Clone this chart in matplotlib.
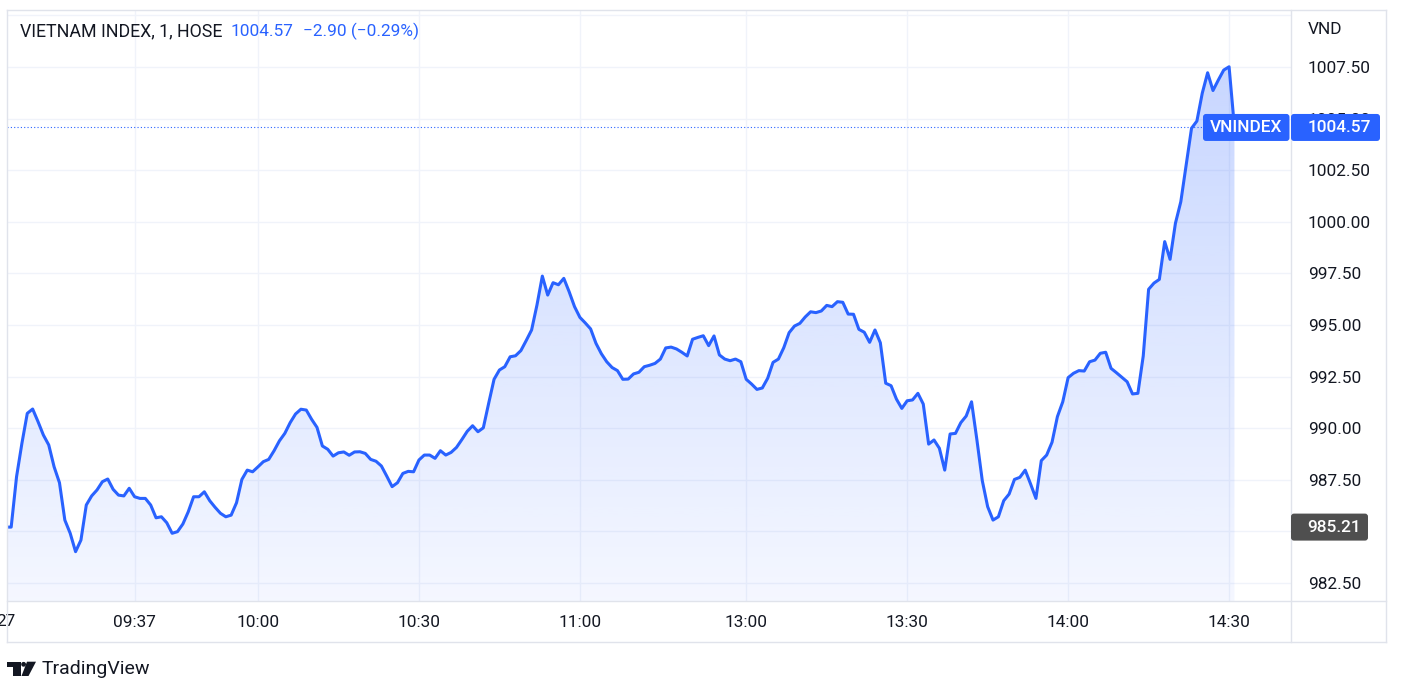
import numpy as np
import matplotlib.pyplot as plt
from matplotlib.patches import FancyBboxPatch, Polygon, Circle
from matplotlib.lines import Line2D
from matplotlib.transforms import IdentityTransform, blended_transform_factory

plt.rcParams['font.family'] = ['Roboto', 'DejaVu Sans']

W, H = 1402, 696
BLUE = '#2962ff'
TEXT = '#131722'
GRID = '#f0f3fa'
BORDER = '#e0e3eb'
FS = 12.4

title = 'VIETNAM INDEX, 1, HOSE'
symbol = 'VNINDEX'
currency = 'VND'
last_price = 1004.57
change = '\u22122.90 (\u22120.29%)'
open_price = 985.21
day_label = '27'

# 1-minute closes, morning session 09:13 - 11:30
morning = [
    985.21, 985.21, 987.65, 989.27, 990.72, 990.93, 990.32, 989.67, 989.19, 988.13,
    987.36, 985.55, 984.91, 984.02, 984.58, 986.28, 986.72, 987.01, 987.41, 987.54,
    987.04, 986.76, 986.72, 987.09, 986.68, 986.60, 986.60, 986.28, 985.66, 985.71,
    985.42, 984.91, 984.99, 985.36, 985.95, 986.68, 986.68, 986.92, 986.49, 986.17,
    985.88, 985.71, 985.79, 986.39, 987.52, 987.97, 987.89, 988.13, 988.38, 988.49,
    988.91, 989.39, 989.75, 990.27, 990.69, 990.92, 990.88, 990.43, 990.04, 989.14,
    988.98, 988.65, 988.81, 988.85, 988.69, 988.85, 988.86, 988.78, 988.49, 988.40,
    988.17, 987.68, 987.17, 987.36, 987.81, 987.91, 987.89, 988.46, 988.70, 988.70,
    988.54, 988.91, 988.70, 988.83, 989.07, 989.45, 989.85, 990.12, 989.83, 990.02,
    991.21, 992.37, 992.82, 992.98, 993.46, 993.51, 993.76, 994.25, 994.76, 995.97,
    997.37, 996.45, 997.05, 996.95, 997.26, 996.61, 995.89, 995.37, 995.10, 994.81,
    994.11, 993.61, 993.22, 992.94, 992.79, 992.37, 992.38, 992.63, 992.71, 992.98,
    993.05, 993.14, 993.35, 993.89, 993.93, 993.84, 993.68, 993.50, 994.31, 994.40,
    994.48, 994.00, 994.47, 993.55, 993.35, 993.27, 993.35, 993.22,
]
# afternoon session 13:00 - 14:30
afternoon = [
    992.37, 992.14, 991.88, 991.95, 992.42, 993.19, 993.35, 993.90, 994.63, 994.95,
    995.08, 995.39, 995.64, 995.60, 995.68, 995.95, 995.89, 996.13, 996.10, 995.53,
    995.52, 994.79, 994.65, 994.16, 994.76, 994.14, 992.18, 992.06, 991.41, 990.96,
    991.33, 991.37, 991.69, 991.17, 989.23, 989.43, 989.03, 987.97, 989.72, 989.75,
    990.27, 990.59, 991.28, 989.43, 987.46, 986.20, 985.55, 985.71, 986.49, 986.81,
    987.52, 987.62, 987.97, 987.30, 986.60, 988.43, 988.70, 989.32, 990.56, 991.28,
    992.45, 992.66, 992.79, 992.77, 993.22, 993.30, 993.63, 993.68, 992.90, 992.69,
    992.47, 992.25, 991.66, 991.69, 993.50, 996.73, 997.03, 997.21, 999.04, 998.18,
    999.93, 1000.97, 1002.75, 1004.53, 1004.88, 1006.23, 1007.22, 1006.36, 1006.87, 1007.35,
    1007.51,
]
# closing auction
closing = [1004.57]


def minute_range(a, b):
    h0, m0 = map(int, a.split(':'))
    h1, m1 = map(int, b.split(':'))
    return ['%02d:%02d' % (t // 60, t % 60) for t in range(h0 * 60 + m0, h1 * 60 + m1 + 1)]


times = minute_range('09:13', '11:30') + minute_range('13:00', '14:30') + ['14:45']
values = morning + afternoon + closing
bars = np.arange(len(values))

price_ticks = [982.5, 985.0, 987.5, 990.0, 992.5, 995.0, 997.5, 1000.0, 1002.5, 1005.0, 1007.5]
time_ticks = ['09:37', '10:00', '10:30', '11:00', '13:00', '13:30', '14:00', '14:30']

XMIN, XMAX = 0.22, 239.54
YMIN, YMAX = 981.63, 1010.26


def fx(x):
    return x / W


def fy(y):
    return 1 - y / H


fig = plt.figure(figsize=(W / 100, H / 100), dpi=100)
ax = fig.add_axes([fx(7), fy(601), (1291 - 7) / W, (601 - 10) / H])

# gradient area under the line
fill = ax.fill_between(bars, values, YMIN, color='none', lw=0)
grad = np.zeros((256, 1, 4))
grad[..., 0] = 41 / 255
grad[..., 1] = 98 / 255
grad[..., 2] = 1.0
grad[:, 0, 3] = np.linspace(0.05, 0.28, 256)
im = ax.imshow(grad, extent=[XMIN, XMAX, YMIN, YMAX], origin='lower',
               aspect='auto', zorder=1, interpolation='bilinear')
im.set_clip_path(fill.get_paths()[0], transform=ax.transData)

ax.plot(bars, values, color=BLUE, lw=2.2, zorder=3, solid_joinstyle='round')
ax.axhline(last_price, xmin=0, xmax=(1203 - 7) / (1291 - 7), color=BLUE,
           lw=0.8, ls=(0, (1, 2)), zorder=2)
ax.axhline(1010.0, color=GRID, lw=1, zorder=0.5)

ax.set_xlim(XMIN, XMAX)
ax.set_ylim(YMIN, YMAX)
ax.yaxis.tick_right()
ax.set_yticks(price_ticks, ['%.2f' % p for p in price_ticks])
ax.set_xticks([times.index(t) for t in time_ticks], time_ticks)
ax.tick_params(length=0, labelsize=FS, labelcolor=TEXT)
ax.tick_params(axis='y', pad=12.2)
ax.tick_params(axis='x', pad=10)
ax.set_axisbelow(True)
ax.grid(color=GRID, lw=1)
for s in ax.spines.values():
    s.set_visible(False)

# day label at the first bar, cut by the image edge
ax.text(0, fy(622), day_label, transform=blended_transform_factory(ax.transData, fig.transFigure),
        ha='center', va='center', fontsize=FS, color=TEXT, clip_on=False)


def line(x0, y0, x1, y1):
    fig.add_artist(Line2D([fx(x0), fx(x1)], [fy(y0), fy(y1)], color=BORDER, lw=1))


line(7, 10, 1386, 10)
line(7, 642, 1386, 642)
line(7, 10, 7, 642)
line(1386, 10, 1386, 642)
line(1291, 10, 1291, 642)
line(7, 601, 1386, 601)

fig.text(fx(20), fy(31), title, fontsize=12.8, color=TEXT, va='center')
fig.text(fx(230), fy(31), '%.2f' % last_price, fontsize=FS, color=BLUE, va='center')
fig.text(fx(303), fy(31), change, fontsize=FS, color=BLUE, va='center')
fig.text(fx(1308), fy(29), currency, fontsize=FS, color=TEXT, va='center')


def box(x0, x1, yc, color):
    p = FancyBboxPatch((x0, H - yc - 13.5), x1 - x0, 27,
                       boxstyle='round,pad=0,rounding_size=3',
                       transform=IdentityTransform(), fc=color, ec='none', zorder=4)
    fig.add_artist(p)


y_last = H - ax.transData.transform((0, last_price))[1]
y_open = H - ax.transData.transform((0, open_price))[1]

box(1203, 1289.5, y_last, BLUE)
box(1291, 1380, y_last, BLUE)
fig.text(fx(1246), fy(y_last), symbol, fontsize=FS, color='white', ha='center', va='center',
         weight='medium', zorder=5)
fig.text(fx(1308), fy(y_last), '%.2f' % last_price, fontsize=FS, color='white', va='center',
         weight='medium', zorder=5)

box(1291, 1368, y_open, '#4f4f4f')
fig.text(fx(1307), fy(y_open), '%.2f' % open_price, fontsize=FS, color='white', va='center',
         weight='medium', zorder=5)

# TradingView logo
logo_t = [(6.7, 661.7), (20.7, 661.7), (20.7, 676), (13.3, 676), (13.3, 666.7), (6.7, 666.7)]
logo_s = [(27, 661.7), (36, 661.7), (28.5, 676), (21.5, 676)]
for pts in (logo_t, logo_s):
    fig.add_artist(Polygon([(x, H - y) for x, y in pts], closed=True,
                           transform=IdentityTransform(), fc=TEXT, ec='none'))
fig.add_artist(Circle((23.6, H - 664.3), 2.4, transform=IdentityTransform(), fc=TEXT, ec='none'))
fig.text(fx(42), fy(669), 'TradingView', fontsize=14, color=TEXT, va='center')

fig.savefig('out.png', dpi=100)
